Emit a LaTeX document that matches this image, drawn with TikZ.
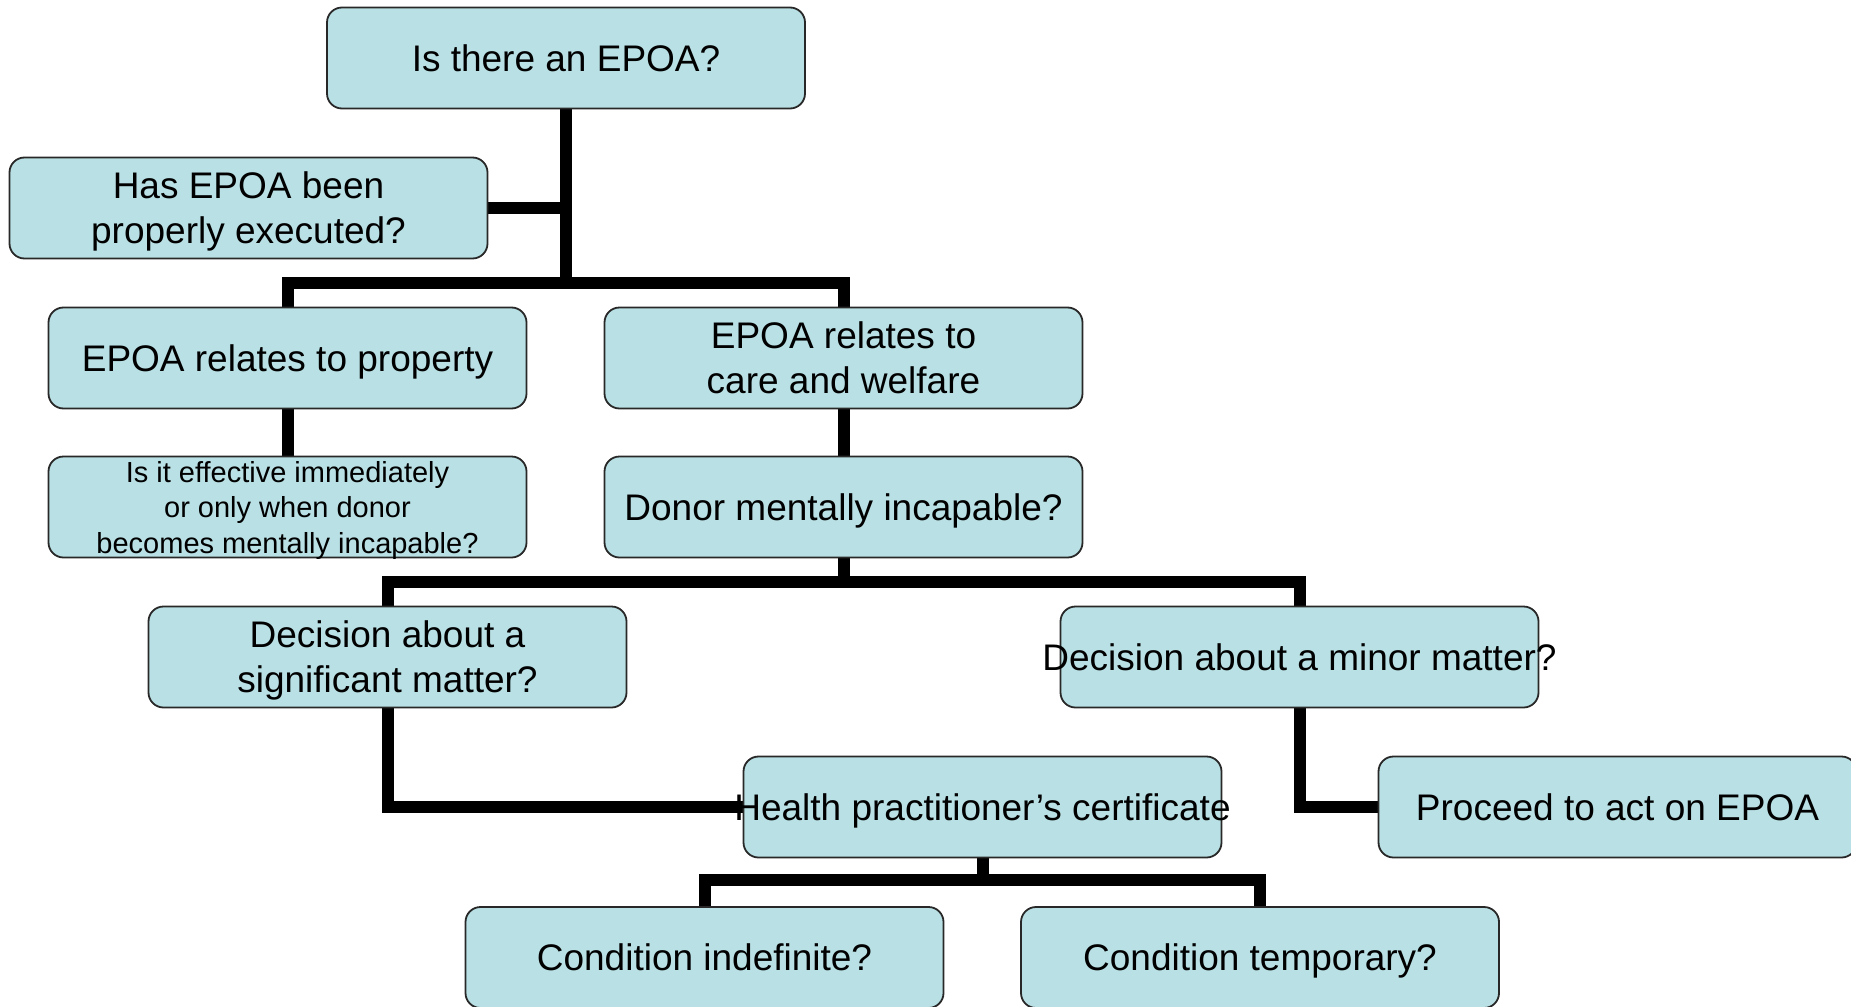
\documentclass[tikz,border=0pt]{standalone}
\usepackage{fontspec}
\setmainfont{Liberation Sans}
\usetikzlibrary{backgrounds}
\definecolor{boxfill}{RGB}{185,224,228}
\definecolor{boxline}{RGB}{40,40,40}
\tikzset{
  box/.style={draw=boxline, line width=1.8pt, fill=boxfill, rounded corners=15pt,
    minimum width=478pt, minimum height=101pt, inner sep=0pt, align=center,
    text depth=0pt, font=\fontsize{37}{45}\selectfont},
  multi/.style={text depth=-5pt},
  smallbox/.style={box, multi, font=\fontsize{29}{35.5}\selectfont},
  conn/.style={line width=12pt, black, line join=miter}
}
\begin{document}
\begin{tikzpicture}[x=1pt,y=-1pt]
\useasboundingbox (0,0) rectangle (1851,1006);
\node[box] (top) at (566,58) {Is there an EPOA?};
\node[box,multi] (has) at (248.5,208) {Has EPOA been\\properly executed?};
\node[box] (prop) at (287.5,358) {EPOA relates to property};
\node[box,multi] (care) at (843.5,358) {EPOA relates to\\care and welfare};
\node[smallbox] (eff) at (287.5,507) {Is it effective immediately\\or only when donor\\becomes mentally incapable?};
\node[box] (donor) at (843.5,507) {Donor mentally incapable?};
\node[box,multi] (sig) at (387.5,657) {Decision about a\\significant matter?};
\node[box] (minor) at (1299.5,657) {\makebox[0pt]{Decision about a minor matter?}};
\node[box] (health) at (982.5,807) {\makebox[0pt]{Health practitioner’s certificate}};
\node[box] (proceed) at (1617.5,807) {\makebox[0pt]{Proceed to act on EPOA}};
\node[box] (cind) at (704.5,957.5) {Condition indefinite?};
\node[box] (ctemp) at (1260,957.5) {Condition temporary?};
\coordinate (j1) at (566,283);
\coordinate (j2) at (843.5,582);
\coordinate (j3) at (982.5,880);
\begin{scope}[on background layer]
\draw[conn] (top.south) -- (j1);
\draw[conn] (has.east) -- (has.east -| top.south);
\draw[conn] (prop.north) |- (j1);
\draw[conn] (care.north) |- (j1);
\draw[conn] (prop.south) -- (eff.north);
\draw[conn] (care.south) -- (donor.north);
\draw[conn] (donor.south) -- (j2);
\draw[conn] (sig.north) |- (j2);
\draw[conn] (minor.north) |- (j2);
\draw[conn] (sig.south) |- (health.west);
\draw[conn] (minor.south) |- (proceed.west);
\draw[conn] (health.south) -- (j3);
\draw[conn] (cind.north) |- (j3);
\draw[conn] (ctemp.north) |- (j3);
\end{scope}
\end{tikzpicture}
\end{document}
